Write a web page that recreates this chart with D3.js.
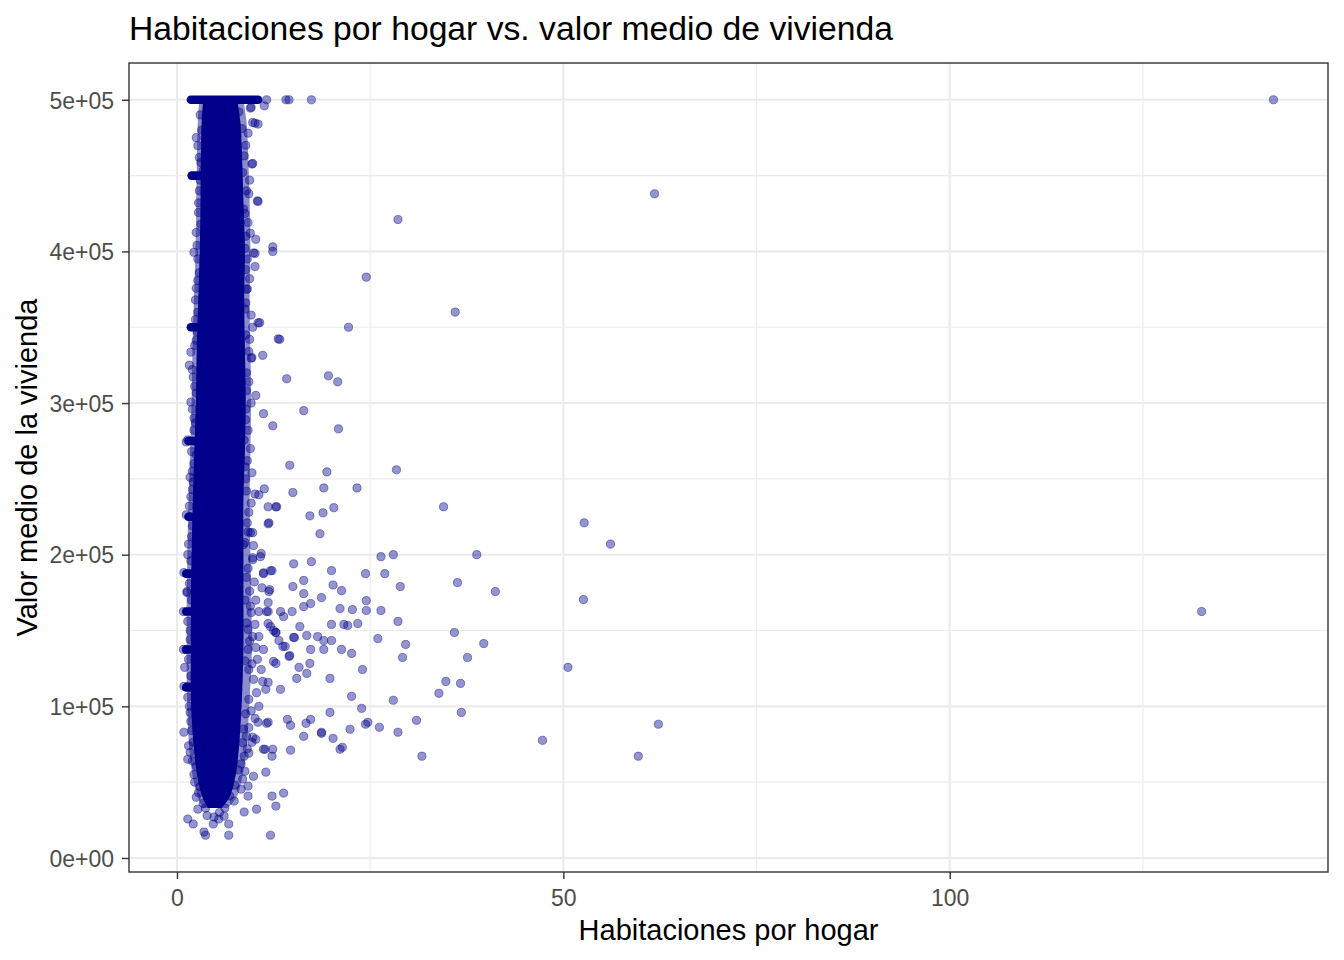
<!DOCTYPE html>
<html>
<head>
<meta charset="utf-8">
<script src="https://cdn.jsdelivr.net/npm/d3@7"></script>
<style>
	body{ margin:0; background:#fff; }
	text{ font-family:"Liberation Sans", Arial, sans-serif; }
</style>
</head>
<body>
<div id="chart"></div>
<script>

// dense core of the cloud (thousands of overlapping points), edges
const coreValue = [500001, 486000, 466000, 434000, 401000, 368000, 335000, 302000, 269000, 236000, 203000, 170000, 137500, 104500, 71500, 52000, 40000, 33000];
const coreLow   = [3.4, 3.2, 3.1, 3.05, 2.95, 2.75, 2.55, 2.45, 2.25, 2.05, 1.9, 1.8, 1.8, 1.8, 2.2, 2.7, 3.3, 4.0];
const coreHigh  = [7.8, 8.2, 8.4, 8.6, 8.8, 8.7, 8.8, 8.9, 8.8, 8.6, 8.6, 8.6, 8.6, 8.4, 8.0, 7.5, 6.8, 5.8];
// half-covered rim around the core
const haloLow   = [2.9, 2.7, 2.6, 2.5, 2.4, 2.2, 2.0, 1.9, 1.7, 1.5, 1.35, 1.25, 1.25, 1.3, 1.6, 2.1, 2.7, 3.3];
const haloHigh  = [8.6, 9.0, 9.2, 9.4, 9.5, 9.4, 9.5, 9.6, 9.5, 9.4, 9.5, 9.6, 9.7, 9.4, 9.0, 8.4, 7.7, 6.6];

// stacked rows of points at rounded / capped values
const rowValue = [500001, 450000, 350000, 275000, 225000, 187500, 162500, 137500, 112500];
const rowLow   = [1.8, 1.9, 1.8, 1.5, 1.5, 1.2, 1.2, 1.2, 1.2];
const rowHigh  = [10.5, 5, 5, 5, 5, 5, 5, 5, 5];

// single points around the core
const fringePoints = [
	[11.6, 500001], [14.1, 500001], [14.5, 500001], [17.4, 500001],
	[11.3, 496000], [9.6, 495000], [10.5, 484000], [9.8, 485000], [9.2, 478000], [9.8, 458000],
	[9.4, 447000], [10.5, 433000], [9.2, 419000], [8.9, 410000], [10.2, 408000], [12.4, 403000],
	[12.4, 400000], [10.1, 398700], [10.1, 390000], [8.9, 388000], [9.0, 375000], [10.7, 353000],
	[9.8, 350000], [9.4, 342000], [11.1, 331500], [9.7, 330000], [9.3, 314000], [10.2, 305000],
	[11.2, 293000], [12.4, 285000], [8.7, 275600], [8.8, 258000],
	[11.3, 243400], [10.1, 240000], [10.6, 239500], [12.9, 231600], [11.9, 221000], [9.8, 214500],
	[9.2, 215000], [10.9, 200700], [9.8, 198000], [15.1, 194000], [17.4, 195400], [12.3, 189500],
	[11.2, 187500], [15.0, 179000], [16.4, 183000], [11.9, 175700], [16.4, 174300], [21.3, 176300],
	[18.7, 171700], [11.8, 168400], [17.3, 167800], [16.4, 165800], [21.1, 164500], [13.4, 162500],
	[13.8, 159200], [14.9, 162500], [10.6, 162500], [11.6, 162500], [11.8, 154600], [12.5, 150000],
	[12.8, 148700], [15.9, 152600], [20.0, 154000], [21.6, 154000], [15.2, 145400], [16.8, 146700],
	[18.2, 146000], [19.0, 143400], [20.0, 143400], [13.2, 143400], [14.0, 139500], [17.3, 137500],
	[19.0, 137500], [21.3, 137500], [22.6, 134900], [14.6, 133500], [12.5, 129600], [12.8, 128300],
	[15.8, 125700], [16.8, 121700], [17.2, 128300], [15.5, 118400], [13.4, 111200], [14.3, 91400],
	[14.7, 87500], [16.7, 88800], [17.3, 91400], [16.4, 80200], [18.7, 82200], [14.7, 71100],
	[11.4, 71700], [12.4, 71700], [11.5, 56600], [9.9, 53900], [12.3, 40800], [13.8, 42800],
	[12.8, 34200], [10.3, 32200], [12.1, 14999],
	[1.4, 25700], [2.1, 22400], [3.5, 17100], [3.7, 14999], [6.7, 14999], [4.7, 22400],
	[5.4, 25700], [6.7, 22400], [2.7, 32200], [3.7, 32900], [4.8, 27000], [6.1, 27600],
	[8.7, 30300], [7.4, 37500], [9.2, 40800], [8.3, 45400], [9.2, 47400], [2.5, 40100],
	[8.5, 52000], [8.8, 57200], [1.7, 69700], [1.4, 65100], [2.5, 60500], [8.7, 67100],
	[9.3, 69100], [11.2, 71700], [12.3, 67100], [9.0, 80300], [10.2, 78300], [9.7, 76300],
	[11.6, 88800], [10.5, 89500], [2.1, 76300], [0.9, 82900], [0.9, 113200], [1.4, 113200],
	[1.0, 125700], [0.85, 137500], [1.2, 137500], [0.846, 162500], [1.3, 175000],
	[9.2, 137500], [10.2, 138800], [11.2, 137500], [9.3, 124300], [10.9, 124300], [9.9, 117800],
	[11.1, 116400], [11.8, 115800], [11.5, 111200], [9.3, 104600], [10.6, 100000], [11.8, 89500],
	[9.8, 79600], [9.2, 150700], [9.8, 146000], [10.6, 146000], [12.1, 152600], [12.8, 148700],
	[13.7, 139500], [14.5, 132900], [15.1, 145400], [9.6, 161800], [11.8, 162500],
	[1.8, 333600], [1.6, 325000], [2.1, 317100], [2.5, 306600], [1.8, 300700], [1.4, 275700],
	[1.2, 274300], [2.2, 282200], [2.5, 265800], [2.1, 248000], [1.8, 238200], [1.2, 226300],
	[1.6, 225000], [1.4, 200000], [0.9, 188200], [1.3, 175700],
	[2.5, 475000], [2.7, 469700], [3.1, 458600], [3.4, 453300], [2.8, 425700], [2.5, 412500],
	[2.2, 399400], [2.7, 380900], [2.5, 375700], [2.7, 359900], [2.5, 341400],
	[9.5, 494500], [10.1, 484600], [9.7, 457600], [10.4, 433300], [9.9, 399000], [9.1, 375300],
	[10.5, 352900], [13.1, 342300], [9.6, 329600],
	[11.8, 231600], [12.8, 231600], [11.8, 220400], [9.5, 214500], [8.6, 206600], [9.8, 196700],
	[10.8, 198700], [11.2, 188100], [12.1, 189400], [11.0, 178200], [12.0, 176900],
	[8.9, 470000], [9.0, 440000], [8.8, 425000], [9.1, 395000], [8.8, 362000], [9.0, 320000],
	[8.9, 296000], [9.2, 282000], [8.9, 250000], [9.3, 228000], [8.8, 208000], [9.0, 185000],
	[8.8, 170000], [9.0, 155000], [8.8, 130000], [8.9, 95000], [8.6, 85000], [8.3, 62000],
	[3.0, 490000], [2.9, 440000], [2.7, 395000], [2.4, 355000], [2.2, 290000], [2.0, 255000],
	[1.9, 212000], [1.7, 150000], [1.6, 100000], [1.8, 90000], [2.2, 55000], [3.0, 47000],
	[3.2, 480000], [2.9, 462000], [3.0, 447000], [2.8, 432000], [3.1, 418000], [2.6, 404000],
	[2.9, 386000], [2.4, 368000], [2.6, 347000], [2.3, 338000], [2.0, 322000], [2.3, 311000],
	[2.0, 296000], [2.4, 287000], [1.9, 268000], [2.2, 260000], [1.7, 251000], [2.0, 243000],
	[1.6, 232000], [2.0, 219000], [1.5, 207000], [1.8, 196000], [1.6, 181000], [1.9, 170000],
	[1.4, 156000], [1.7, 144000], [1.5, 131000], [1.8, 120000], [1.4, 106000], [1.7, 96000],
	[1.9, 84000], [1.5, 74000], [2.0, 64000], [2.3, 50000], [2.8, 43000], [3.4, 36000],
	[3.9, 28000], [4.3, 38000],
	[8.0, 492000], [8.4, 481000], [8.7, 463000], [8.5, 452000], [9.3, 438000], [8.6, 428000],
	[9.5, 412000], [8.8, 402000], [9.4, 382000], [8.9, 366000], [9.6, 358000], [8.9, 345000],
	[9.3, 334000], [9.0, 308000], [9.6, 300000], [8.9, 289000], [9.5, 270000], [9.1, 262000],
	[9.7, 254000], [9.0, 242000], [9.6, 234000], [9.1, 221000], [9.9, 206000], [9.2, 191000],
	[10.0, 182000], [9.4, 176000], [10.2, 170000], [9.5, 166000], [10.1, 154000], [9.4, 143000],
	[10.4, 131000], [9.7, 128000], [10.3, 109000], [9.6, 97000], [10.1, 92000], [9.3, 86000],
	[9.1, 72000], [8.5, 76000], [7.9, 58000], [7.5, 48000], [6.8, 41000], [6.2, 33000],
	[5.5, 30000]
];

// sparse points far from the core
const outlierPoints = [
	[141.9, 500001], [132.6, 162500], [61.8, 438000], [28.6, 421000], [24.5, 383000], [36.0, 360000],
	[22.2, 350000], [13.3, 342000], [19.6, 318000], [20.8, 314000], [14.2, 316000], [16.4, 295000],
	[20.9, 283000], [14.6, 259000], [28.4, 256000], [19.4, 254600], [23.3, 244000], [19.0, 244000],
	[15.0, 241000], [34.5, 231600], [18.9, 227600], [17.2, 225600], [20.3, 231000], [18.5, 213800],
	[52.7, 221000], [56.1, 207000], [38.8, 200000], [28.0, 200000], [26.4, 198700], [24.4, 187500],
	[20.0, 189500], [26.9, 187500], [28.9, 179000], [20.2, 180000], [41.2, 175700], [36.3, 181600],
	[52.6, 170400], [24.5, 169700], [24.5, 163200], [22.7, 163800], [26.4, 163200], [28.6, 156000],
	[23.4, 154600], [22.1, 153300], [35.9, 148700], [39.7, 141400], [29.6, 140800], [37.6, 132200],
	[26.0, 144700], [29.2, 132200], [50.6, 125700], [24.0, 124300], [19.8, 118400], [34.8, 116400],
	[36.7, 115100], [33.9, 108600], [22.6, 106600], [28.0, 104000], [36.8, 96000], [19.8, 96000],
	[23.9, 98700], [31.0, 90800], [62.3, 88200], [24.7, 89500], [24.4, 88200], [26.2, 86200],
	[28.6, 82900], [22.4, 84900], [18.7, 82900], [47.3, 77600], [20.2, 78900], [21.4, 73000],
	[21.1, 71700], [31.7, 67100], [59.7, 67100]
];

const xMajor = [0, 50, 100];
const xMinor = [25, 75, 125];
const yMajor = [0, 100000, 200000, 300000, 400000, 500000];
const yMinor = [50000, 150000, 250000, 350000, 450000];

const titleText = "Habitaciones por hogar vs. valor medio de vivienda";
const xTitle = "Habitaciones por hogar";
const yTitle = "Valor medio de la vivienda";

const W = 1344, H = 960;
const panel = { left:129, right:1328, top:63, bottom:872 };
const pointColor = "#00008B";

const allPoints = fringePoints.concat(outlierPoints);

// ggplot style 5% expansion
function expand( ext ){
	const pad = (ext[1] - ext[0]) * 0.05;
	return [ext[0] - pad, ext[1] + pad];
}

const x = d3.scaleLinear()
	.domain(expand(d3.extent(allPoints, d => d[0])))
	.range([panel.left, panel.right]);

const y = d3.scaleLinear()
	.domain(expand(d3.extent(allPoints, d => d[1])))
	.range([panel.bottom, panel.top]);

function sciLabel( v ){
	if( v === 0 ){
		return "0e+00";
	}
	const e = Math.floor(Math.log10(v));
	const m = Math.round(v / Math.pow(10, e));
	return m + "e+" + String(e).padStart(2, "0");
}

const svg = d3.select("#chart")
	.append("svg")
	.attr("width", W)
	.attr("height", H);

svg.append("rect")
	.attr("width", W)
	.attr("height", H)
	.attr("fill", "#fff");

// grid
const grid = svg.append("g").attr("class", "grid");

grid.selectAll("line.xminor")
	.data(xMinor)
	.join("line")
		.attr("x1", d => x(d)).attr("x2", d => x(d))
		.attr("y1", panel.top).attr("y2", panel.bottom)
		.attr("stroke", "#ebebeb").attr("stroke-width", 1.1);

grid.selectAll("line.yminor")
	.data(yMinor)
	.join("line")
		.attr("y1", d => y(d)).attr("y2", d => y(d))
		.attr("x1", panel.left).attr("x2", panel.right)
		.attr("stroke", "#ebebeb").attr("stroke-width", 1.1);

grid.selectAll("line.xmajor")
	.data(xMajor)
	.join("line")
		.attr("x1", d => x(d)).attr("x2", d => x(d))
		.attr("y1", panel.top).attr("y2", panel.bottom)
		.attr("stroke", "#ebebeb").attr("stroke-width", 2.1);

grid.selectAll("line.ymajor")
	.data(yMajor)
	.join("line")
		.attr("y1", d => y(d)).attr("y2", d => y(d))
		.attr("x1", panel.left).attr("x2", panel.right)
		.attr("stroke", "#ebebeb").attr("stroke-width", 2.1);

// dense core and its rim
const bandArea = d3.area()
	.y(d => y(d.v))
	.x0(d => x(d.lo))
	.x1(d => x(d.hi))
	.curve(d3.curveCatmullRom);

svg.append("path")
	.datum(coreValue.map((v, i) => ({ v:v, lo:haloLow[i], hi:haloHigh[i] })))
	.attr("fill", pointColor)
	.attr("fill-opacity", 0.45)
	.attr("d", bandArea);

svg.append("path")
	.datum(coreValue.map((v, i) => ({ v:v, lo:coreLow[i], hi:coreHigh[i] })))
	.attr("fill", pointColor)
	.attr("d", bandArea);

// stacked rows
svg.append("g")
	.selectAll("line")
	.data(rowValue.map((v, i) => ({ v:v, lo:rowLow[i], hi:rowHigh[i] })))
	.join("line")
		.attr("x1", d => x(d.lo))
		.attr("x2", d => x(d.hi))
		.attr("y1", d => y(d.v))
		.attr("y2", d => y(d.v))
		.attr("stroke", pointColor)
		.attr("stroke-width", 8.6)
		.attr("stroke-linecap", "round");

// points
svg.append("g")
	.selectAll("circle")
	.data(allPoints)
	.join("circle")
		.attr("cx", d => x(d[0]))
		.attr("cy", d => y(d[1]))
		.attr("r", 4.1)
		.attr("fill", pointColor)
		.attr("fill-opacity", 0.42)
		.attr("stroke", pointColor)
		.attr("stroke-opacity", 0.42)
		.attr("stroke-width", 1);

// panel border
svg.append("rect")
	.attr("x", panel.left)
	.attr("y", panel.top)
	.attr("width", panel.right - panel.left)
	.attr("height", panel.bottom - panel.top)
	.attr("fill", "none")
	.attr("stroke", "#333")
	.attr("stroke-width", 1.4);

// axes
const xAxis = svg.append("g")
	.attr("transform", "translate(0," + panel.bottom + ")")
	.call(d3.axisBottom(x).tickValues(xMajor).tickSize(7).tickPadding(8));

const yAxis = svg.append("g")
	.attr("transform", "translate(" + panel.left + ",0)")
	.call(d3.axisLeft(y).tickValues(yMajor).tickFormat(sciLabel).tickSize(7).tickPadding(8));

[xAxis, yAxis].forEach(a => {
	a.select(".domain").remove();
	a.selectAll(".tick line").attr("stroke", "#333").attr("stroke-width", 1.4);
	a.selectAll(".tick text")
		.attr("fill", "#4d4d4d")
		.style("font-size", "23px")
		.style("font-family", "'Liberation Sans', Arial, sans-serif");
});

xAxis.selectAll(".tick text").attr("dy", "0.83em");
yAxis.selectAll(".tick text").attr("dy", "0.36em");

// titles
svg.append("text")
	.attr("x", panel.left)
	.attr("y", 40)
	.attr("font-size", 33.7)
	.attr("fill", "#000")
	.text(titleText);

svg.append("text")
	.attr("x", (panel.left + panel.right) / 2)
	.attr("y", 940)
	.attr("text-anchor", "middle")
	.attr("font-size", 29)
	.attr("fill", "#000")
	.text(xTitle);

svg.append("text")
	.attr("transform", "translate(37," + ((panel.top + panel.bottom) / 2) + ") rotate(-90)")
	.attr("text-anchor", "middle")
	.attr("font-size", 29)
	.attr("fill", "#000")
	.text(yTitle);

</script>
</body>
</html>
